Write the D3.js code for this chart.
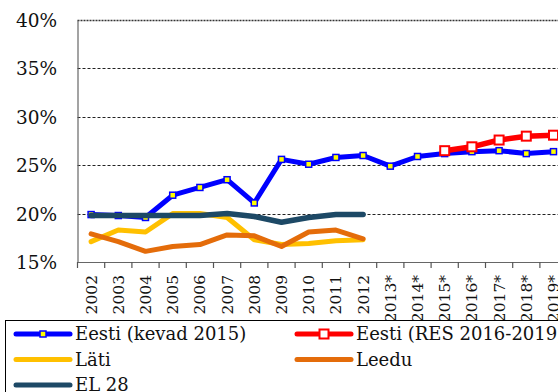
<!DOCTYPE html>
<html>
<head>
<meta charset="utf-8">
<script src="https://cdn.jsdelivr.net/npm/d3@7"></script>
<style>
  html, body { margin: 0; padding: 0; background: #fff; }
  svg { display: block; }
</style>
</head>
<body>
<svg id="chart" width="558" height="392"></svg>
<script>
// Years on the category axis (starred years are projections)
const years = ["2002","2003","2004","2005","2006","2007","2008","2009","2010",
               "2011","2012","2013*","2014*","2015*","2016*","2017*","2018*","2019*"];

// Share of renewable energy, %
const eestiKevad = [19.9, 19.8, 19.6, 21.9, 22.7, 23.5, 21.1, 25.6, 25.1,
                    25.8, 26.0, 24.9, 25.9, 26.2, 26.4, 26.5, 26.2, 26.4];
const eestiRes   = [null, null, null, null, null, null, null, null, null,
                    null, null, null, null, 26.5, 26.9, 27.6, 28.0, 28.1];
const lati       = [17.1, 18.3, 18.1, 20.0, 20.0, 19.6, 17.3, 16.8, 16.9,
                    17.2, 17.3];
const leedu      = [17.9, 17.1, 16.1, 16.6, 16.8, 17.8, 17.7, 16.6, 18.1,
                    18.3, 17.4];
const el28       = [19.8, 19.8, 19.8, 19.8, 19.8, 20.0, 19.7, 19.1, 19.6,
                    19.9, 19.9];

const yTicks = [15, 20, 25, 30, 35, 40];

const legendItems = [
  { name: "Eesti (kevad 2015)", color: "#0000FF", marker: "small" },
  { name: "Eesti (RES 2016-2019)", color: "#FF0000", marker: "big" },
  { name: "Läti", color: "#FFC000", marker: null },
  { name: "Leedu", color: "#E46C0A", marker: null },
  { name: "EL 28", color: "#1D4966", marker: null }
];

(function () {
const svg = d3.select("#chart");
const fontFam = "'DejaVu Serif', 'Liberation Serif', serif";

const plotLeft = 77.5, plotTop = 20, plotBottom = 262;
const step = 27.2;

const x = d3.scaleBand().domain(years).range([plotLeft, plotLeft + step * years.length]).padding(0);
const y = d3.scaleLinear().domain([15, 40]).range([plotBottom, plotTop]);
const cx = d => x(d) + x.bandwidth() / 2;

// Dashed horizontal gridlines
svg.append("g")
  .selectAll("line")
  .data(yTicks.filter(t => t > 15))
  .join("line")
  .attr("x1", plotLeft).attr("x2", 558)
  .attr("y1", d => Math.round(y(d)) + 0.5).attr("y2", d => Math.round(y(d)) + 0.5)
  .attr("stroke", d => d === 40 ? "#333" : "#222")
  .attr("stroke-width", d => d === 40 ? 1.4 : 1)
  .attr("stroke-dasharray", d => d === 40 ? "2,1" : "3,2");

// Y axis
const yAxis = d3.axisLeft(y).tickValues(yTicks).tickSize(0).tickPadding(20)
  .tickFormat(d => d + "%");
const gy = svg.append("g").attr("transform", `translate(${plotLeft},0)`).call(yAxis);
gy.select(".domain").attr("stroke", "#666").attr("stroke-width", 1.2);
gy.selectAll("text")
  .attr("font-family", fontFam).attr("font-size", 18.5).attr("fill", "#111")
  .attr("x", 57 - plotLeft).attr("dy", "0.35em");

// X axis: ticks on category boundaries
const gx = svg.append("g").attr("transform", `translate(0,${plotBottom})`);
gx.append("line").attr("x1", plotLeft).attr("x2", 558).attr("y1", 0.5).attr("y2", 0.5)
  .attr("stroke", "#666").attr("stroke-width", 1.2);
gx.selectAll("line.tick")
  .data(years.concat(["end"]))
  .join("line").attr("class", "tick")
  .attr("x1", (d, i) => plotLeft + i * step).attr("x2", (d, i) => plotLeft + i * step)
  .attr("y1", 0).attr("y2", 6).attr("stroke", "#555").attr("stroke-width", 1.2);
gx.selectAll("text")
  .data(years)
  .join("text")
  .attr("transform", d => `translate(${cx(d)},${275 - plotBottom}) rotate(-90)`)
  .attr("text-anchor", "end").attr("dy", "0.36em")
  .attr("font-family", fontFam).attr("font-size", 15.5).attr("fill", "#111")
  .text(d => d);

// Series lines
const lineGen = d3.line()
  .defined(d => d.v !== null)
  .x(d => cx(d.year)).y(d => y(d.v));

function series(values) {
  return values.map((v, i) => ({ year: years[i], v: v }));
}

function drawLine(values, color, width) {
  svg.append("path")
    .datum(series(values))
    .attr("d", lineGen)
    .attr("fill", "none").attr("stroke", color).attr("stroke-width", width)
    .attr("stroke-linejoin", "round").attr("stroke-linecap", "round");
}

// Eesti (kevad 2015) with small yellow markers
drawLine(eestiKevad, "#0000FF", 5);
svg.append("g").selectAll("rect")
  .data(series(eestiKevad))
  .join("rect")
  .attr("x", d => cx(d.year) - 3).attr("y", d => y(d.v) - 3)
  .attr("width", 6).attr("height", 6)
  .attr("fill", "#FFFF00").attr("stroke", "#0000FF").attr("stroke-width", 1.5);

// Eesti (RES 2016-2019) with open square markers
drawLine(eestiRes, "#FF0000", 5.5);
svg.append("g").selectAll("rect")
  .data(series(eestiRes).filter(d => d.v !== null))
  .join("rect")
  .attr("x", d => cx(d.year) - 4.5).attr("y", d => y(d.v) - 4.5)
  .attr("width", 9).attr("height", 9)
  .attr("fill", "#fff").attr("stroke", "#FF0000").attr("stroke-width", 2);

drawLine(lati, "#FFC000", 5);
drawLine(leedu, "#E46C0A", 5);
drawLine(el28, "#1D4966", 5.5);

// Legend
const lg = svg.append("g");
lg.append("rect").attr("x", 5.5).attr("y", 320.5).attr("width", 600).attr("height", 100)
  .attr("fill", "#fff").attr("stroke", "#000").attr("stroke-width", 1);

const colX = [16, 297];
const rowY = [334, 359.5, 385];
legendItems.forEach((item, i) => {
  const lx = colX[i % 2], ly = rowY[Math.floor(i / 2)];
  const g = lg.append("g");
  g.append("line").attr("x1", lx).attr("x2", lx + 54).attr("y1", ly).attr("y2", ly)
    .attr("stroke", item.color).attr("stroke-width", 5).attr("stroke-linecap", "round");
  if (item.marker === "small") {
    g.append("rect").attr("x", lx + 27 - 3).attr("y", ly - 3).attr("width", 6).attr("height", 6)
      .attr("fill", "#FFFF00").attr("stroke", item.color).attr("stroke-width", 1.5);
  } else if (item.marker === "big") {
    g.append("rect").attr("x", lx + 27 - 4.5).attr("y", ly - 4.5).attr("width", 9).attr("height", 9)
      .attr("fill", "#fff").attr("stroke", item.color).attr("stroke-width", 2);
  }
  g.append("text").attr("x", lx + 59).attr("y", ly).attr("dy", "0.36em")
    .attr("font-family", fontFam).attr("font-size", 18).attr("fill", "#111")
    .text(item.name);
});
})();
</script>
</body>
</html>
